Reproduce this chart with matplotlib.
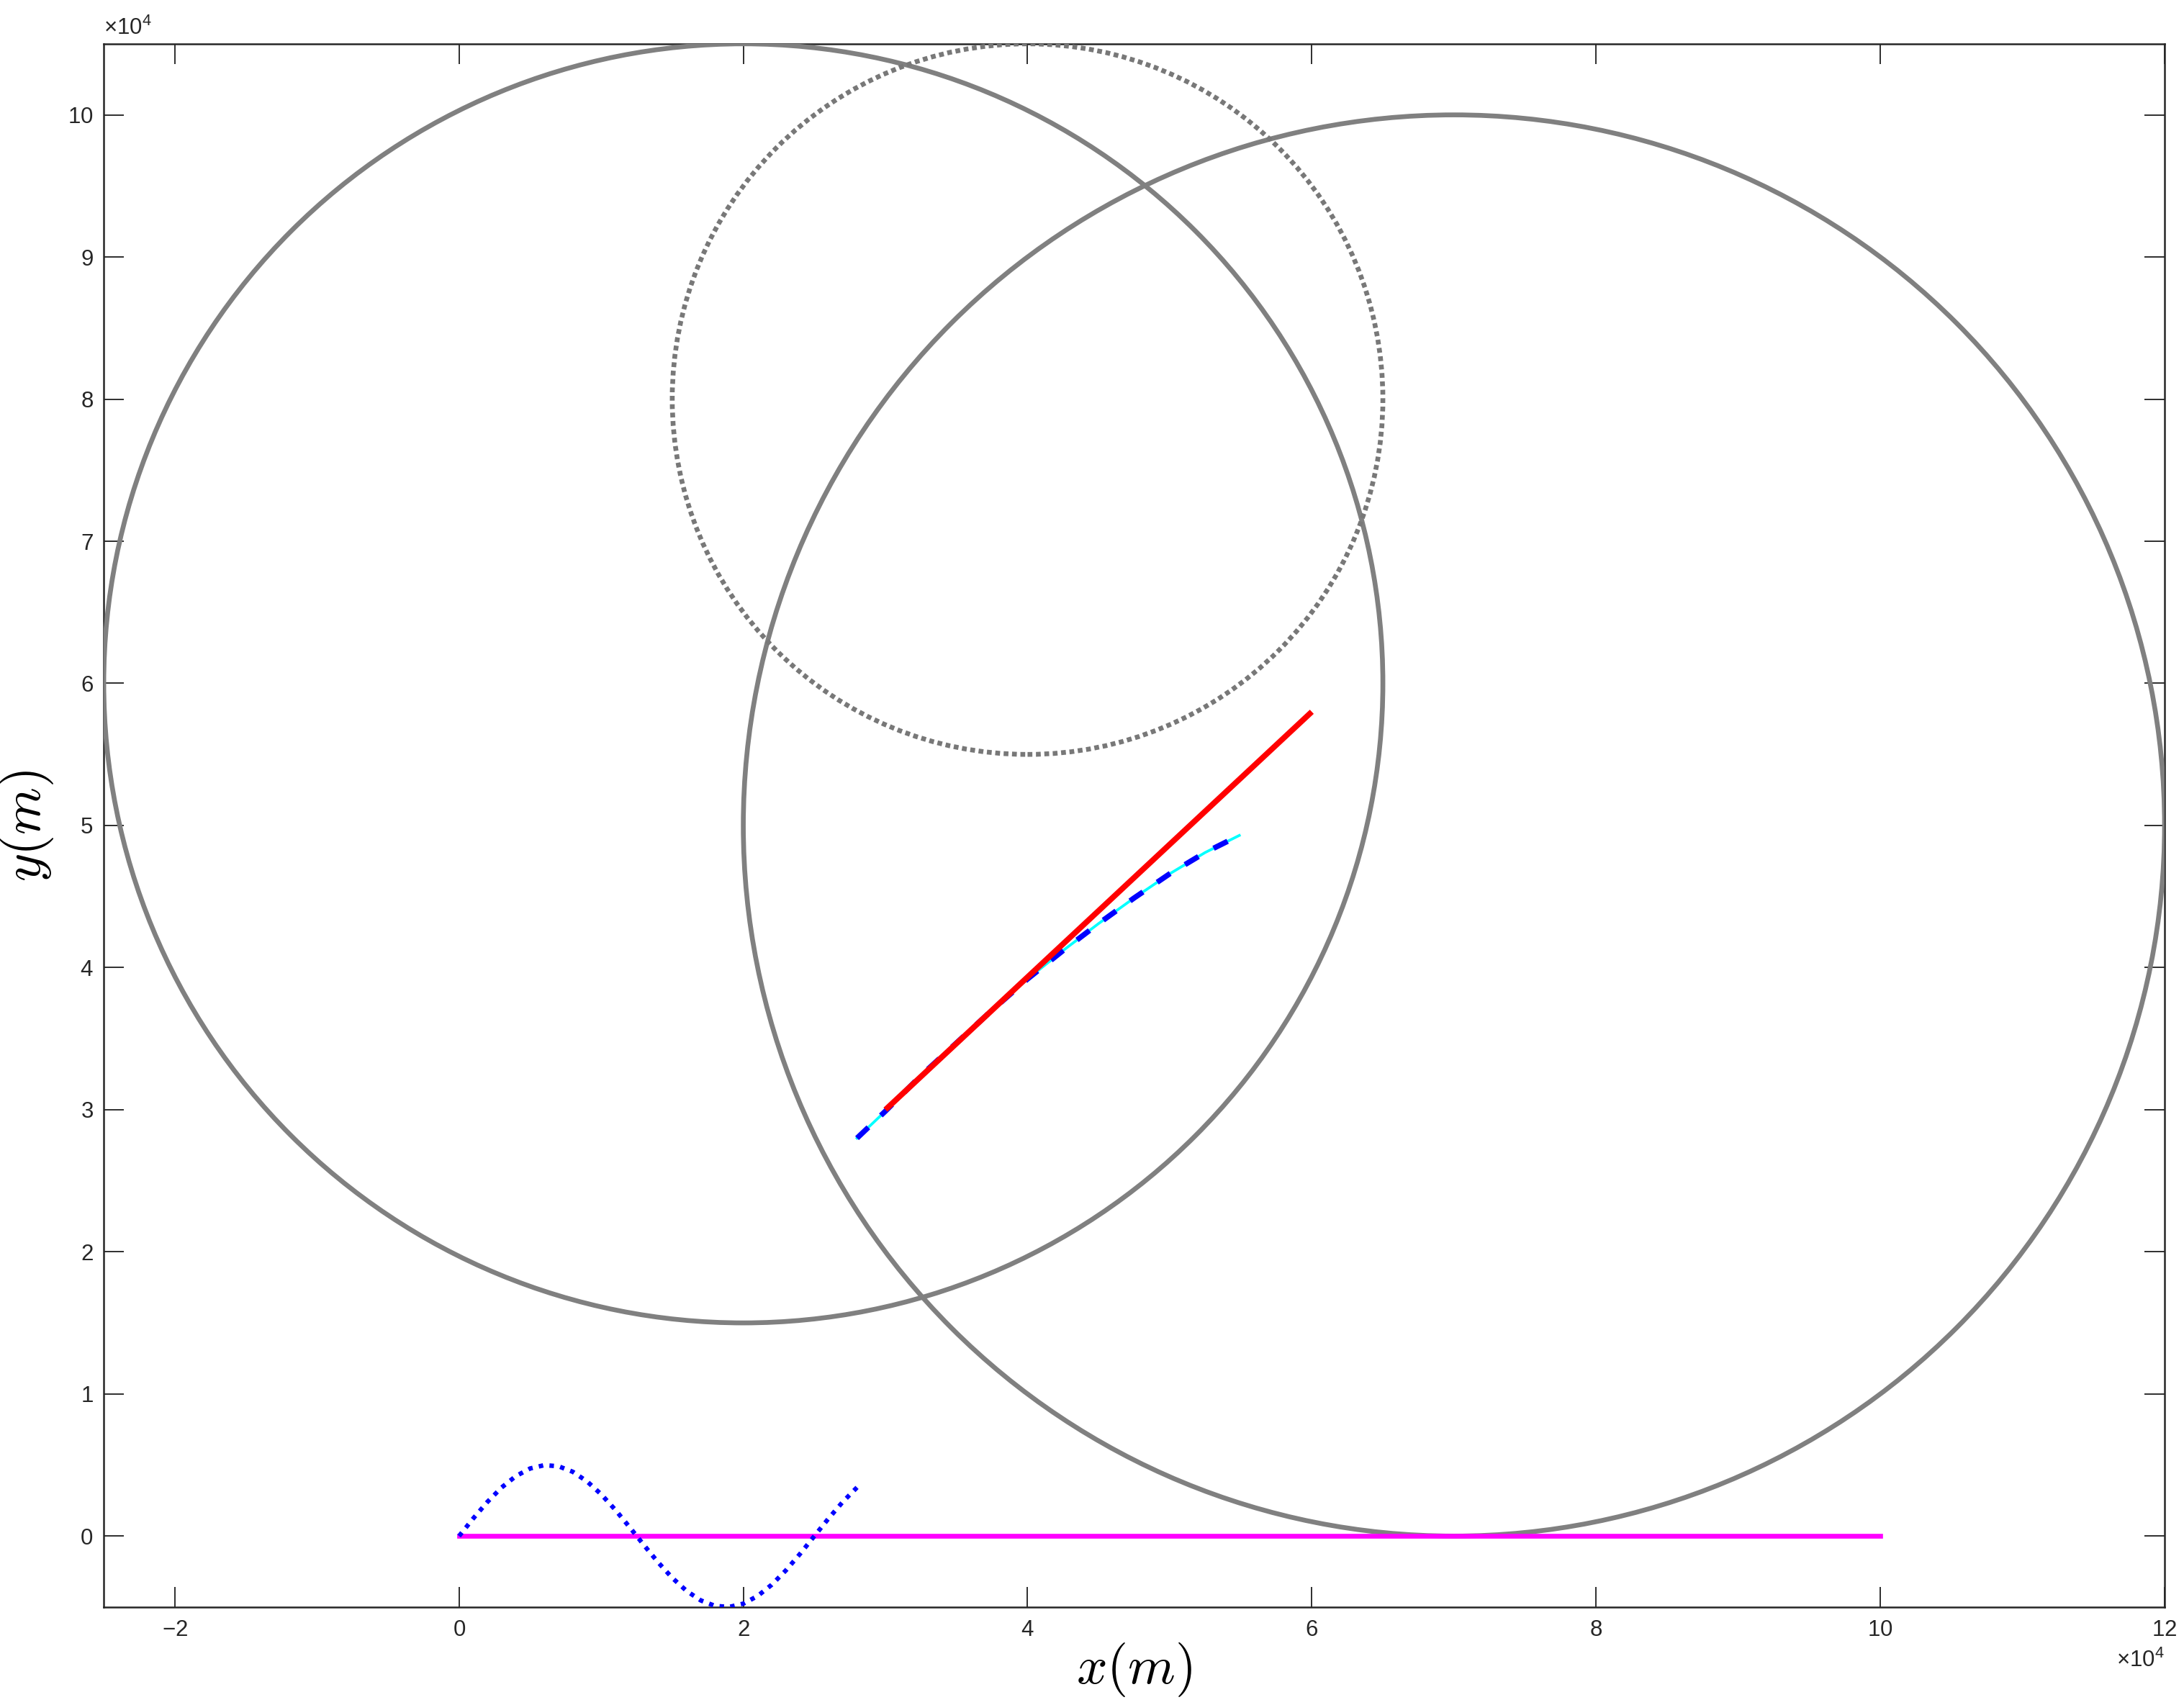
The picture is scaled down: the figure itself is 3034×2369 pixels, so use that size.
import matplotlib
matplotlib.use("Agg")
import matplotlib.pyplot as plt
from matplotlib.patches import Circle

# ---- data (metres) ----
circle_centers_x = [20000, 70000]
circle_centers_y = [60000, 50000]
circle_radii = [45000, 50000]
dotted_center = (40000, 80000)
dotted_radius = 25000

red_x = [30000, 60000]
red_y = [30000, 58000]

curve_x = [28000, 30000, 32500, 35000, 37500, 40000, 42500, 45000, 47500, 50000, 52500, 54900]
curve_y = [28000, 29900, 32400, 34700, 37000, 39200, 41200, 43100, 44900, 46600, 48100, 49300]

sine_x = [0, 1000, 2000, 3000, 4000, 5000, 6000, 7000, 8000, 9000, 10000, 11000, 12000, 13000,
          14000, 15000, 16000, 17000, 18000, 19000, 20000, 21000, 22000, 23000, 24000, 25000,
          26000, 27000, 28000]
sine_y = [0, 1243, 2409, 3423, 4222, 4755, 4990, 4911, 4524, 3852, 2939, 1841, 627, -627,
          -1841, -2939, -3852, -4524, -4911, -4990, -4755, -4222, -3423, -2409, -1243, 0,
          1243, 2409, 3423]

ground_x = [0, 100000]
ground_y = [0, 0]

xticks = [-20000, 0, 20000, 40000, 60000, 80000, 100000, 120000]
yticks = [0, 10000, 20000, 30000, 40000, 50000, 60000, 70000, 80000, 90000, 100000]
xlim = (-25000, 120000)
ylim = (-5000, 105000)

# ---- style ----
plt.rcParams['font.family'] = ['Liberation Sans', 'DejaVu Sans']
plt.rcParams['mathtext.fontset'] = 'custom'
plt.rcParams['mathtext.rm'] = 'Liberation Sans'
plt.rcParams['mathtext.it'] = 'Liberation Sans:italic'
plt.rcParams['axes.unicode_minus'] = False

axcol = (0.15, 0.15, 0.15)
gray = (0.5, 0.5, 0.5)

fig = plt.figure(figsize=(3034 / 300, 2369 / 300), dpi=300)
ax = fig.add_axes([0.0475, 0.0574, 0.9436, 0.9169])

for cx, cy, r in zip(circle_centers_x, circle_centers_y, circle_radii):
    ax.add_patch(Circle((cx, cy), r, fill=False, edgecolor=gray, linewidth=1.6, zorder=3))
ax.add_patch(Circle(dotted_center, dotted_radius, fill=False, edgecolor=(0.47, 0.47, 0.47),
                    linewidth=1.6, linestyle=(0, (1, 0.75)), zorder=3))

ax.plot(red_x, red_y, color='red', linewidth=1.9, solid_capstyle='butt', zorder=5)
ax.plot(curve_x, curve_y, color='cyan', linewidth=0.9, zorder=4)
ax.plot(curve_x, curve_y, color='blue', linewidth=1.8, dashes=(2.9, 3.2), zorder=4.5)
ax.plot(ground_x, ground_y, color='magenta', linewidth=1.6, zorder=4)
ax.plot(sine_x, sine_y, color='blue', linewidth=1.5, linestyle=(0, (1, 1.4)), zorder=4)

ax.set_xlim(*xlim)
ax.set_ylim(*ylim)
ax.set_xticks(xticks)
ax.set_yticks(yticks)
ax.ticklabel_format(style='sci', scilimits=(4, 4), useMathText=True)

ax.tick_params(direction='in', length=6.8, width=0.45, colors=axcol, labelsize=7.5,
               top=True, right=True, pad=4)
ax.tick_params(axis='y', pad=3.5)
for s in ax.spines.values():
    s.set_color(axcol)
    s.set_linewidth(0.6)
ax.xaxis.get_offset_text().set_fontsize(7.5)
ax.yaxis.get_offset_text().set_fontsize(7.5)
ax.xaxis.get_offset_text().set_color(axcol)
ax.yaxis.get_offset_text().set_color(axcol)

ax.set_xlabel(r'$x(m)$', fontsize=18, math_fontfamily='cm', labelpad=0)
ax.set_ylabel(r'$y(m)$', fontsize=18, math_fontfamily='cm', labelpad=4)

fig.savefig('out.png', dpi=300)
